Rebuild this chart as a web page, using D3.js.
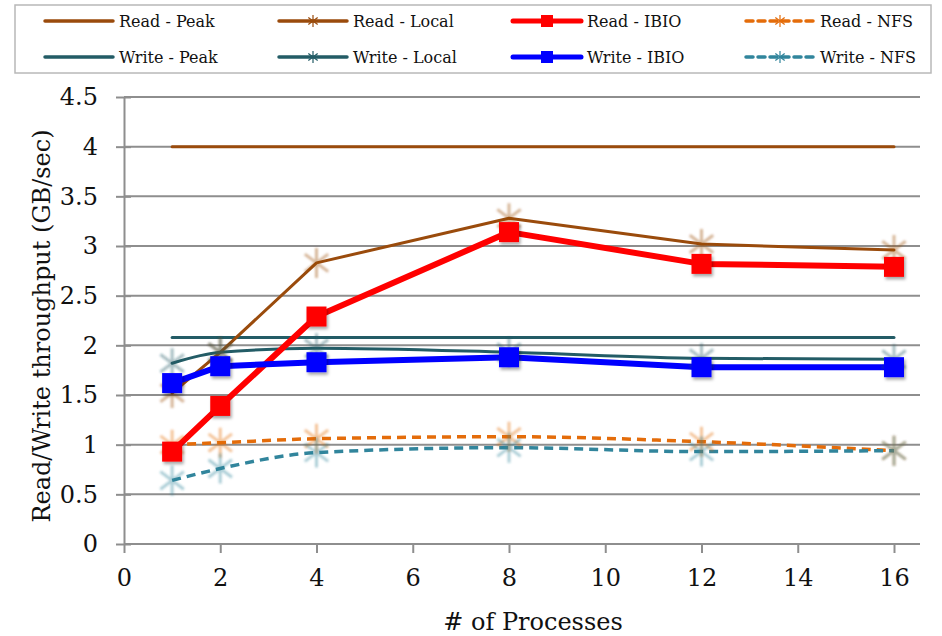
<!DOCTYPE html>
<html>
<head>
<meta charset="utf-8">
<script src="https://cdn.jsdelivr.net/npm/d3@7"></script>
<style>
  html, body { margin: 0; padding: 0; background: #fff; }
  svg { display: block; font-family: "DejaVu Serif", "Liberation Serif", serif; }
</style>
</head>
<body>
<svg id="chart" width="942" height="636"></svg>
<script>
// Number of processes on the x axis
const processes = [1, 2, 4, 8, 12, 16];

// Throughput series (GB/sec)
const readPeak   = [4.00, 4.00, 4.00, 4.00, 4.00, 4.00];
const readLocal  = [1.52, 1.93, 2.83, 3.28, 3.02, 2.96];
const readIBIO   = [0.93, 1.39, 2.29, 3.14, 2.82, 2.79];
const readNFS    = [1.00, 1.02, 1.06, 1.08, 1.03, 0.94];
const writePeak  = [2.08, 2.08, 2.08, 2.08, 2.08, 2.08];
const writeLocal = [1.82, 1.93, 1.97, 1.93, 1.87, 1.86];
const writeIBIO  = [1.62, 1.79, 1.83, 1.88, 1.78, 1.78];
const writeNFS   = [0.64, 0.76, 0.92, 0.97, 0.93, 0.94];

// Axis ticks and labels
const xTicks = [0, 2, 4, 6, 8, 10, 12, 14, 16];
const yTicks = [0, 0.5, 1, 1.5, 2, 2.5, 3, 3.5, 4, 4.5];
const xTitle = "# of Processes";
const yTitle = "Read/Write throughput (GB/sec)";

const series = [
  { name: "Read - Peak",   values: readPeak,   color: "#9a4b0c", width: 3,   dash: null,  marker: "none" },
  { name: "Write - Peak",  values: writePeak,  color: "#235c66", width: 3,   dash: null,  marker: "none" },
  { name: "Read - Local",  values: readLocal,  color: "#9a4b0c", width: 3,   dash: null,  marker: "star", curve: false },
  { name: "Write - Local", values: writeLocal, color: "#235c66", width: 3,   dash: null,  marker: "star", curve: true },
  { name: "Read - IBIO",   values: readIBIO,   color: "#ff0000", width: 6,   dash: null,  marker: "square" },
  { name: "Write - IBIO",  values: writeIBIO,  color: "#0000ff", width: 6,   dash: null,  marker: "square" },
  { name: "Read - NFS",    values: readNFS,    color: "#e46c0a", width: 3.5, dash: "9,6", marker: "star", curve: true },
  { name: "Write - NFS",   values: writeNFS,   color: "#31859c", width: 3.5, dash: "9,6", marker: "star", curve: true }
];

// Legend layout order (two rows of four)
const legendRows = [
  ["Read - Peak", "Read - Local", "Read - IBIO", "Read - NFS"],
  ["Write - Peak", "Write - Local", "Write - IBIO", "Write - NFS"]
];

const svg = d3.select("#chart");
const plot = { left: 124, right: 920, top: 97, bottom: 544 };

const x = d3.scaleLinear().domain([0, 16]).range([plot.left, 894]);
const y = d3.scaleLinear().domain([0, 4.5]).range([plot.bottom, plot.top]);

const defs = svg.append("defs");
const shadow = defs.append("filter").attr("id", "shadow")
  .attr("x", "-40%").attr("y", "-40%").attr("width", "180%").attr("height", "180%");
shadow.append("feDropShadow").attr("dx", 1.5).attr("dy", 2.5).attr("stdDeviation", 1.6)
  .attr("flood-color", "#000").attr("flood-opacity", 0.35);
const soft = defs.append("filter").attr("id", "soft")
  .attr("x", "-40%").attr("y", "-40%").attr("width", "180%").attr("height", "180%");
soft.append("feGaussianBlur").attr("stdDeviation", 0.8);

// Horizontal gridlines
svg.append("g").selectAll("line").data(yTicks.filter(d => d > 0)).join("line")
  .attr("x1", plot.left).attr("x2", plot.right)
  .attr("y1", d => y(d)).attr("y2", d => y(d))
  .attr("stroke", "#8e8e8e").attr("stroke-width", 2);

// Y axis
const yAxis = svg.append("g").attr("transform", `translate(${plot.left},0)`)
  .call(d3.axisLeft(y).tickValues(yTicks).tickSize(0).tickPadding(26)
    .tickFormat(d => d3.format("")(d)));
yAxis.select(".domain").attr("stroke", "#8e8e8e").attr("stroke-width", 2);
yAxis.selectAll(".tick text").attr("font-size", 24).attr("fill", "#111")
  .attr("font-family", "DejaVu Serif, serif");
yAxis.selectAll(".tick").append("line")
  .attr("x1", -8).attr("x2", 7).attr("stroke", "#8e8e8e").attr("stroke-width", 2);

// X axis
const xAxis = svg.append("g").attr("transform", `translate(0,${plot.bottom})`)
  .call(d3.axisBottom(x).tickValues(xTicks).tickSize(9).tickPadding(16));
xAxis.select(".domain").attr("d", `M${plot.left},0H${plot.right}`)
  .attr("stroke", "#8e8e8e").attr("stroke-width", 2);
xAxis.selectAll(".tick line").attr("stroke", "#8e8e8e").attr("stroke-width", 2);
xAxis.selectAll(".tick text").attr("font-size", 24).attr("fill", "#111")
  .attr("font-family", "DejaVu Serif, serif");

// Axis titles
svg.append("text").attr("x", 533).attr("y", 630).attr("text-anchor", "middle")
  .attr("font-size", 24).attr("fill", "#111").text(xTitle);
svg.append("text").attr("transform", `translate(50,326) rotate(-90)`)
  .attr("text-anchor", "middle").attr("font-size", 24).attr("fill", "#111").text(yTitle);

// Marker shapes
function starPath(s) {
  const r = s / 2, d = r * 0.78;
  return `M0,${-r}V${r}M${-d},${-d * 0.75}L${d},${d * 0.75}M${-d},${d * 0.75}L${d},${-d * 0.75}`;
}

const lineGen = (s) => d3.line()
  .x((d, i) => x(processes[i])).y(d => y(d))
  .curve(s.curve ? d3.curveMonotoneX : d3.curveLinear);

const gSeries = svg.append("g");

// Lines
series.forEach(s => {
  gSeries.append("path").datum(s.values)
    .attr("d", lineGen(s))
    .attr("fill", "none").attr("stroke", s.color).attr("stroke-width", s.width)
    .attr("stroke-dasharray", s.dash).attr("stroke-linecap", s.dash ? "butt" : "round")
    .attr("stroke-linejoin", "round");
});

// Star markers (faded)
series.filter(s => s.marker === "star").forEach(s => {
  gSeries.append("g").attr("filter", "url(#soft)").selectAll("path").data(s.values).join("path")
    .attr("transform", (d, i) => `translate(${x(processes[i])},${y(d)})`)
    .attr("d", starPath(30))
    .attr("stroke", s.color).attr("stroke-width", 3).attr("fill", "none")
    .attr("opacity", 0.4);
});

// Square markers
series.filter(s => s.marker === "square").forEach(s => {
  gSeries.append("g").attr("filter", "url(#shadow)").selectAll("rect").data(s.values).join("rect")
    .attr("x", (d, i) => x(processes[i]) - 10).attr("y", d => y(d) - 10)
    .attr("width", 20).attr("height", 20).attr("fill", s.color);
});

// Legend
const legend = svg.append("g");
legend.append("rect").attr("x", 15).attr("y", 5).attr("width", 916).attr("height", 68)
  .attr("fill", "#fff").attr("stroke", "#b8b8b8").attr("stroke-width", 1.5);

const colX = [45, 279, 513, 746];
const rowY = [21, 57];
legendRows.forEach((row, ri) => {
  row.forEach((name, ci) => {
    const s = series.find(d => d.name === name);
    const g = legend.append("g").attr("transform", `translate(${colX[ci]},${rowY[ri]})`);
    g.append("line").attr("x1", 0).attr("x2", 68).attr("y1", 0).attr("y2", 0)
      .attr("stroke", s.color).attr("stroke-width", s.width === 6 ? 5 : 3.5)
      .attr("stroke-dasharray", s.dash ? "7,5" : null).attr("stroke-linecap", "round");
    if (s.marker === "star") {
      g.append("path").attr("transform", "translate(34,0)").attr("d", starPath(12))
        .attr("stroke", s.color).attr("stroke-width", 1.2).attr("fill", "none");
    } else if (s.marker === "square") {
      g.append("rect").attr("x", 28).attr("y", -6).attr("width", 12).attr("height", 12)
        .attr("fill", s.color);
    }
    g.append("text").attr("x", 74).attr("y", 0).attr("dy", "0.35em")
      .attr("font-size", 16).attr("fill", "#111").text(name);
  });
});
</script>
</body>
</html>
